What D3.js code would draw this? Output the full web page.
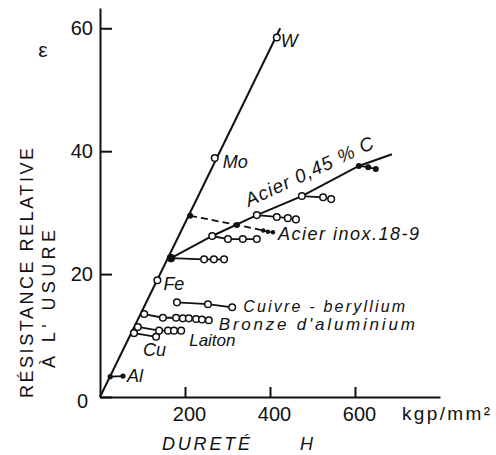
<!DOCTYPE html>
<html>
<head>
<meta charset="utf-8">
<script src="https://cdn.jsdelivr.net/npm/d3@7"></script>
<style>
body { margin: 0; background: #fff; }
svg text { font-family: "Liberation Sans", Arial, sans-serif; fill: #111; }
</style>
</head>
<body>
<svg id="chart"></svg>
<script>
// graduations
var xTicks = [200, 400, 600];
var yTicks = [0, 20, 40, 60];

// droite des métaux purs
var pureLineH = [0, 424];
var pureLineE = [0, 60];
var metalNames = ["Al", "Cu", "Fe", "Mo", "W"];
var metalH = [24, 80, 135, 270, 416];
var metalE = [3.3, 10.4, 19, 38.9, 58.5];

// aluminium écroui
var alH = [24, 54];
var alE = [3.3, 3.4];

// cuivre écroui
var cuH = [80, 132];
var cuE = [10.4, 9.8];

// laiton
var laitonH = [89, 139, 160, 174, 191];
var laitonE = [11.4, 10.8, 10.8, 10.8, 10.8];

// bronze d'aluminium
var bronzeH = [104, 148, 179, 195, 209, 226, 240, 256];
var bronzeE = [13.5, 12.9, 12.9, 12.8, 12.8, 12.7, 12.6, 12.5];

// cuivre-béryllium
var cuBeH = [181, 254, 311];
var cuBeE = [15.4, 15.1, 14.6];

// acier 0,45 % C (traité thermiquement)
var steelH = [167, 264, 369, 475, 609, 687];
var steelE = [22.6, 26.2, 29.6, 32.7, 37.6, 39.5];
// acier 0,45 % C écroui, une branche par état de départ
var steelBranchH = [
    [167, 245, 268, 292],
    [264, 301, 336, 369],
    [369, 416, 442, 461],
    [475, 525, 544],
    [609, 631, 649]
];
var steelBranchE = [
    [22.6, 22.4, 22.4, 22.4],
    [26.2, 25.7, 25.7, 25.7],
    [29.6, 29.3, 29.1, 28.9],
    [32.7, 32.5, 32.2],
    [37.6, 37.4, 37.1]
];

// acier inox 18-9
var inoxH = [212, 322, 384, 395, 407];
var inoxE = [29.5, 28.0, 27.1, 26.9, 26.8];

var width = 496, height = 455;
var svg = d3.select("#chart")
    .attr("width", width)
    .attr("height", height);

var x = d3.scaleLinear().domain([0, 800]).range([100, 440]);
var y = d3.scaleLinear().domain([0, 63.3]).range([397, 8]);

function pts(hs, es) {
    return hs.map(function (h, i) { return [h, es[i]]; });
}

var line = d3.line()
    .x(function (d) { return x(d[0]); })
    .y(function (d) { return y(d[1]); });

// axes
var xAxis = svg.append("g")
    .attr("transform", "translate(0," + y(0) + ")")
    .call(d3.axisBottom(x).tickValues(xTicks).tickSize(-10).tickSizeOuter(0).tickPadding(10));
var yAxis = svg.append("g")
    .attr("transform", "translate(" + x(0) + ",0)")
    .call(d3.axisLeft(y).tickValues(yTicks).tickSize(-12).tickSizeOuter(0).tickPadding(7));

[xAxis, yAxis].forEach(function (a) {
    a.selectAll("path, line").attr("stroke", "#111").attr("stroke-width", 2);
    a.selectAll("text")
        .attr("fill", "#111")
        .style("font-size", "20px")
        .style("font-family", "'Liberation Sans', Arial, sans-serif");
});
xAxis.selectAll("text").attr("dx", 4);
yAxis.selectAll(".tick").filter(function (d) { return d === 0; })
    .select("text").attr("dx", -5).attr("dy", "0.5em");

var g = svg.append("g").attr("fill", "none").attr("stroke", "#111");

// courbes
g.append("path").attr("d", line(pts(pureLineH, pureLineE))).attr("stroke-width", 2);
g.append("path").attr("d", line(pts(steelH, steelE))).attr("stroke-width", 2);
steelBranchH.forEach(function (hs, i) {
    g.append("path").attr("d", line(pts(hs, steelBranchE[i]))).attr("stroke-width", 1.8);
});
g.append("path").attr("d", line(pts(inoxH.slice(0, 3), inoxE.slice(0, 3))))
    .attr("stroke-width", 1.8).attr("stroke-dasharray", "7,4");
g.append("path").attr("d", line(pts(inoxH.slice(2), inoxE.slice(2)))).attr("stroke-width", 1.4);
[[alH, alE], [cuH, cuE], [laitonH, laitonE], [bronzeH, bronzeE], [cuBeH, cuBeE]].forEach(function (s) {
    g.append("path").attr("d", line(pts(s[0], s[1]))).attr("stroke-width", 1.8);
});

// marqueurs
function openDots(data, r) {
    svg.append("g").selectAll("circle")
        .data(data)
        .enter().append("circle")
        .attr("cx", function (d) { return x(d[0]); })
        .attr("cy", function (d) { return y(d[1]); })
        .attr("r", r || 3.3)
        .attr("fill", "#fff")
        .attr("stroke", "#111")
        .attr("stroke-width", 1.5);
}
function filledDots(data, r) {
    svg.append("g").selectAll("circle")
        .data(data)
        .enter().append("circle")
        .attr("cx", function (d) { return x(d[0]); })
        .attr("cy", function (d) { return y(d[1]); })
        .attr("r", r || 2.8)
        .attr("fill", "#111");
}

var metals = pts(metalH, metalE);
openDots(metals.slice(1));
filledDots(pts(alH, alE), 2.6);
openDots(pts(cuH, cuE));
openDots(pts(laitonH, laitonE));
openDots(pts(bronzeH, bronzeE));
openDots(pts(cuBeH, cuBeE));
steelBranchH.forEach(function (hs, i) {
    var p = pts(hs, steelBranchE[i]);
    if (i === steelBranchH.length - 1) filledDots(p, 3);
    else openDots(p);
});
filledDots([[steelH[0], steelE[0]]], 4.2);
filledDots(pts(inoxH.slice(0, 2), inoxE.slice(0, 2)), 3);
filledDots(pts(inoxH.slice(2), inoxE.slice(2)), 2.2);

// étiquettes
var labels = svg.append("g")
    .style("font-size", "18px")
    .style("font-style", "italic");

function label(txt, h, e, dx, dy, size) {
    return labels.append("text")
        .attr("x", x(h) + dx)
        .attr("y", y(e) + dy)
        .style("font-size", (size || 18) + "px")
        .text(txt);
}
var metalOffsets = [[4, 6], [9, 23], [6, 10], [8, 10], [4, 10]];
metalNames.forEach(function (n, i) {
    var h = n === "Al" ? alH[1] : metalH[i];
    var e = n === "Al" ? alE[1] : metalE[i];
    label(n, h, e, metalOffsets[i][0], metalOffsets[i][1]);
});
label("Laiton", laitonH[laitonH.length - 1], laitonE[laitonE.length - 1], 8, 15, 17);
label("Bronze d'aluminium", bronzeH[bronzeH.length - 1], bronzeE[bronzeE.length - 1], 10, 10, 17)
    .attr("textLength", 196).attr("lengthAdjust", "spacing");
label("Cuivre - beryllium", cuBeH[cuBeH.length - 1], cuBeE[cuBeE.length - 1], 11, 5, 16)
    .attr("textLength", 162).attr("lengthAdjust", "spacing");
label("Acier inox.18-9", inoxH[inoxH.length - 1], inoxE[inoxE.length - 1], 5, 8)
    .attr("textLength", 141).attr("lengthAdjust", "spacing");

// étiquette de l'acier, parallèle à sa droite
var ang = Math.atan2(y(steelE[5]) - y(steelE[0]), x(steelH[5]) - x(steelH[0])) * 180 / Math.PI;
var ax = x(steelH[2]) - 8, ay = y(steelE[2]) - 8;
labels.append("text")
    .attr("transform", "translate(" + ax + "," + ay + ") rotate(" + ang + ")")
    .style("font-size", "19px")
    .attr("letter-spacing", 1)
    .text("Acier 0,45 % C");

// titres des axes
svg.append("text")
    .attr("x", 43).attr("y", 57)
    .attr("text-anchor", "middle")
    .style("font-size", "21px")
    .text("ε");

svg.append("text")
    .attr("transform", "translate(33,398) rotate(-90)")
    .style("font-size", "18px")
    .attr("textLength", 250)
    .attr("lengthAdjust", "spacing")
    .text("RÉSISTANCE RELATIVE");
svg.append("text")
    .attr("transform", "translate(55,368) rotate(-90)")
    .style("font-size", "18px")
    .attr("textLength", 138)
    .attr("lengthAdjust", "spacing")
    .text("À L' USURE");

svg.append("text")
    .attr("x", 162).attr("y", 450)
    .style("font-size", "18px")
    .style("font-style", "italic")
    .attr("textLength", 88)
    .attr("lengthAdjust", "spacing")
    .text("DURETÉ");
svg.append("text")
    .attr("x", 300).attr("y", 450)
    .style("font-size", "18px")
    .style("font-style", "italic")
    .text("H");
svg.append("text")
    .attr("x", 402).attr("y", 420)
    .style("font-size", "19px")
    .attr("textLength", 88)
    .attr("lengthAdjust", "spacing")
    .text("kgp/mm²");
</script>
</body>
</html>
